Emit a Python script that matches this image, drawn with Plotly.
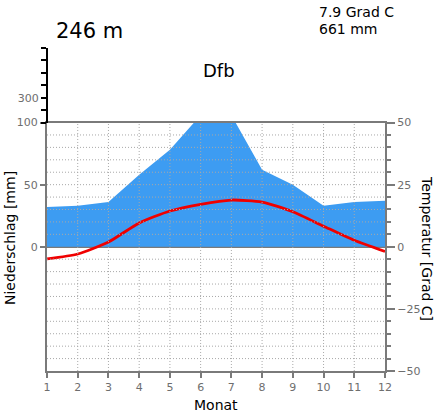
import plotly.graph_objects as go

# ---- data ----
months = [1, 2, 3, 4, 5, 6, 7, 8, 9, 10, 11, 12]
precip_mm = [32, 33, 36, 58, 78, 106, 106, 62, 50, 33, 36, 37]
temp_c = [-4.9, -2.9, 1.9, 9.6, 14.4, 17.1, 18.8, 18.0, 14.1, 8.3, 2.6, -1.9]
left_ticks = [0, 50, 100]
upper_ticks = [100, 110, 120, 130, 140, 150, 160]
upper_labels = ["", "", "300", "", "", "", ""]
right_ticks = [-50, -25, 0, 25, 50]
station_height = "246 m"
mean_temp = "7.9 Grad C"
annual_precip = "661 mm"
climate_class = "Dfb"

W, H = 436, 415
L, R, T, B = 47, 385, 48, 371
FONT = "DejaVu Sans"
GRAY = "#7a7a7a"
TICKGRAY = "#6e6e6e"
GRID = "#a8a8a8"


def px(xp):
    return (xp - L) / (R - L)


def py(yp):
    return (B - yp) / (B - T)


fig = go.Figure()

fig.add_trace(go.Scatter(x=months, y=precip_mm, fill="tozeroy", mode="none",
                         fillcolor="#3d9cf2", xaxis="x", yaxis="y",
                         showlegend=False, hoverinfo="skip"))
fig.add_trace(go.Scatter(x=months, y=temp_c, mode="lines",
                         line=dict(color="#f00000", width=2.8, shape="spline", smoothing=0.6),
                         xaxis="x", yaxis="y3", showlegend=False))
fig.add_trace(go.Scatter(x=[None], y=[None], xaxis="x", yaxis="y2",
                         showlegend=False, hoverinfo="skip"))

shapes = []
for v in range(-90, 100, 10):
    if v == 0:
        continue
    shapes.append(dict(type="line", xref="x", yref="y", x0=1, x1=12, y0=v, y1=v,
                       layer="above", line=dict(color=GRID, width=1, dash="1px,2px")))
for m in months[1:-1]:
    shapes.append(dict(type="line", xref="x", yref="y", x0=m, x1=m, y0=-100, y1=100,
                       layer="above", line=dict(color=GRID, width=1, dash="1px,2px")))

annotations = [
    dict(text=station_height, x=px(89), y=py(31), showarrow=False, xref="paper", yref="paper",
         xanchor="center", yanchor="middle", font=dict(family=FONT, size=21, color="black")),
    dict(text=mean_temp, x=px(317), y=py(12), showarrow=False, xref="paper", yref="paper",
         xanchor="left", yanchor="middle", font=dict(family=FONT, size=14, color="black")),
    dict(text=annual_precip, x=px(317), y=py(29), showarrow=False, xref="paper", yref="paper",
         xanchor="left", yanchor="middle", font=dict(family=FONT, size=14, color="black")),
    dict(text=climate_class, x=px(219), y=py(70), showarrow=False, xref="paper", yref="paper",
         xanchor="center", yanchor="middle", font=dict(family=FONT, size=18, color="black")),
    dict(text="Niederschlag [mm]", x=px(10), y=py(238), showarrow=False, xref="paper", yref="paper",
         textangle=-90, xanchor="center", yanchor="middle",
         font=dict(family=FONT, size=14, color="black")),
    dict(text="Temperatur [Grad C]", x=px(427), y=py(248), showarrow=False, xref="paper", yref="paper",
         textangle=90, xanchor="center", yanchor="middle",
         font=dict(family=FONT, size=14, color="black")),
    dict(text="Monat", x=px(216), y=py(405), showarrow=False, xref="paper", yref="paper",
         xanchor="center", yanchor="middle", font=dict(family=FONT, size=14, color="black")),
]

fig.update_layout(
    width=W, height=H,
    margin=dict(l=L, r=W - R, t=T, b=H - B, autoexpand=False),
    paper_bgcolor="white", plot_bgcolor="white",
    showlegend=False,
    shapes=shapes,
    annotations=annotations,
    xaxis=dict(domain=[0, 1], range=[1, 12], tickvals=months, ticks="outside", ticklen=5,
               tickwidth=1.5, tickcolor=GRAY, showline=True, linecolor=GRAY, linewidth=2,
               mirror=True, showgrid=False, zeroline=False, anchor="y",
               tickfont=dict(family=FONT, size=11, color=TICKGRAY)),
    yaxis=dict(domain=[0, 200 / 260], range=[-100, 100], tickvals=left_ticks, ticks="outside",
               ticklen=5, tickwidth=1.5, tickcolor=GRAY, showline=True, linecolor=GRAY,
               linewidth=2, showgrid=False, zeroline=True, zerolinecolor=GRAY, zerolinewidth=1.5,
               anchor="x", tickfont=dict(family=FONT, size=11, color=TICKGRAY)),
    yaxis2=dict(domain=[200 / 260, 1], range=[100, 160], tickvals=upper_ticks,
                ticktext=upper_labels, ticks="outside", ticklen=5, tickwidth=1.5,
                tickcolor="black", showline=True, linecolor="black", linewidth=2,
                showgrid=False, zeroline=False, anchor="free", position=0,
                tickfont=dict(family=FONT, size=11, color=TICKGRAY)),
    yaxis3=dict(overlaying="y", side="right", anchor="x", range=[-50, 50],
                tickvals=right_ticks, ticks="outside", ticklen=8, tickwidth=1.5,
                tickcolor=GRAY, showline=True, linecolor=GRAY, linewidth=2,
                showgrid=False, zeroline=False,
                minor=dict(dtick=5, ticks="outside", ticklen=4, tickcolor=GRAY, tickwidth=1.5),
                tickfont=dict(family=FONT, size=11, color=TICKGRAY)),
)

fig.write_html("out.html")
